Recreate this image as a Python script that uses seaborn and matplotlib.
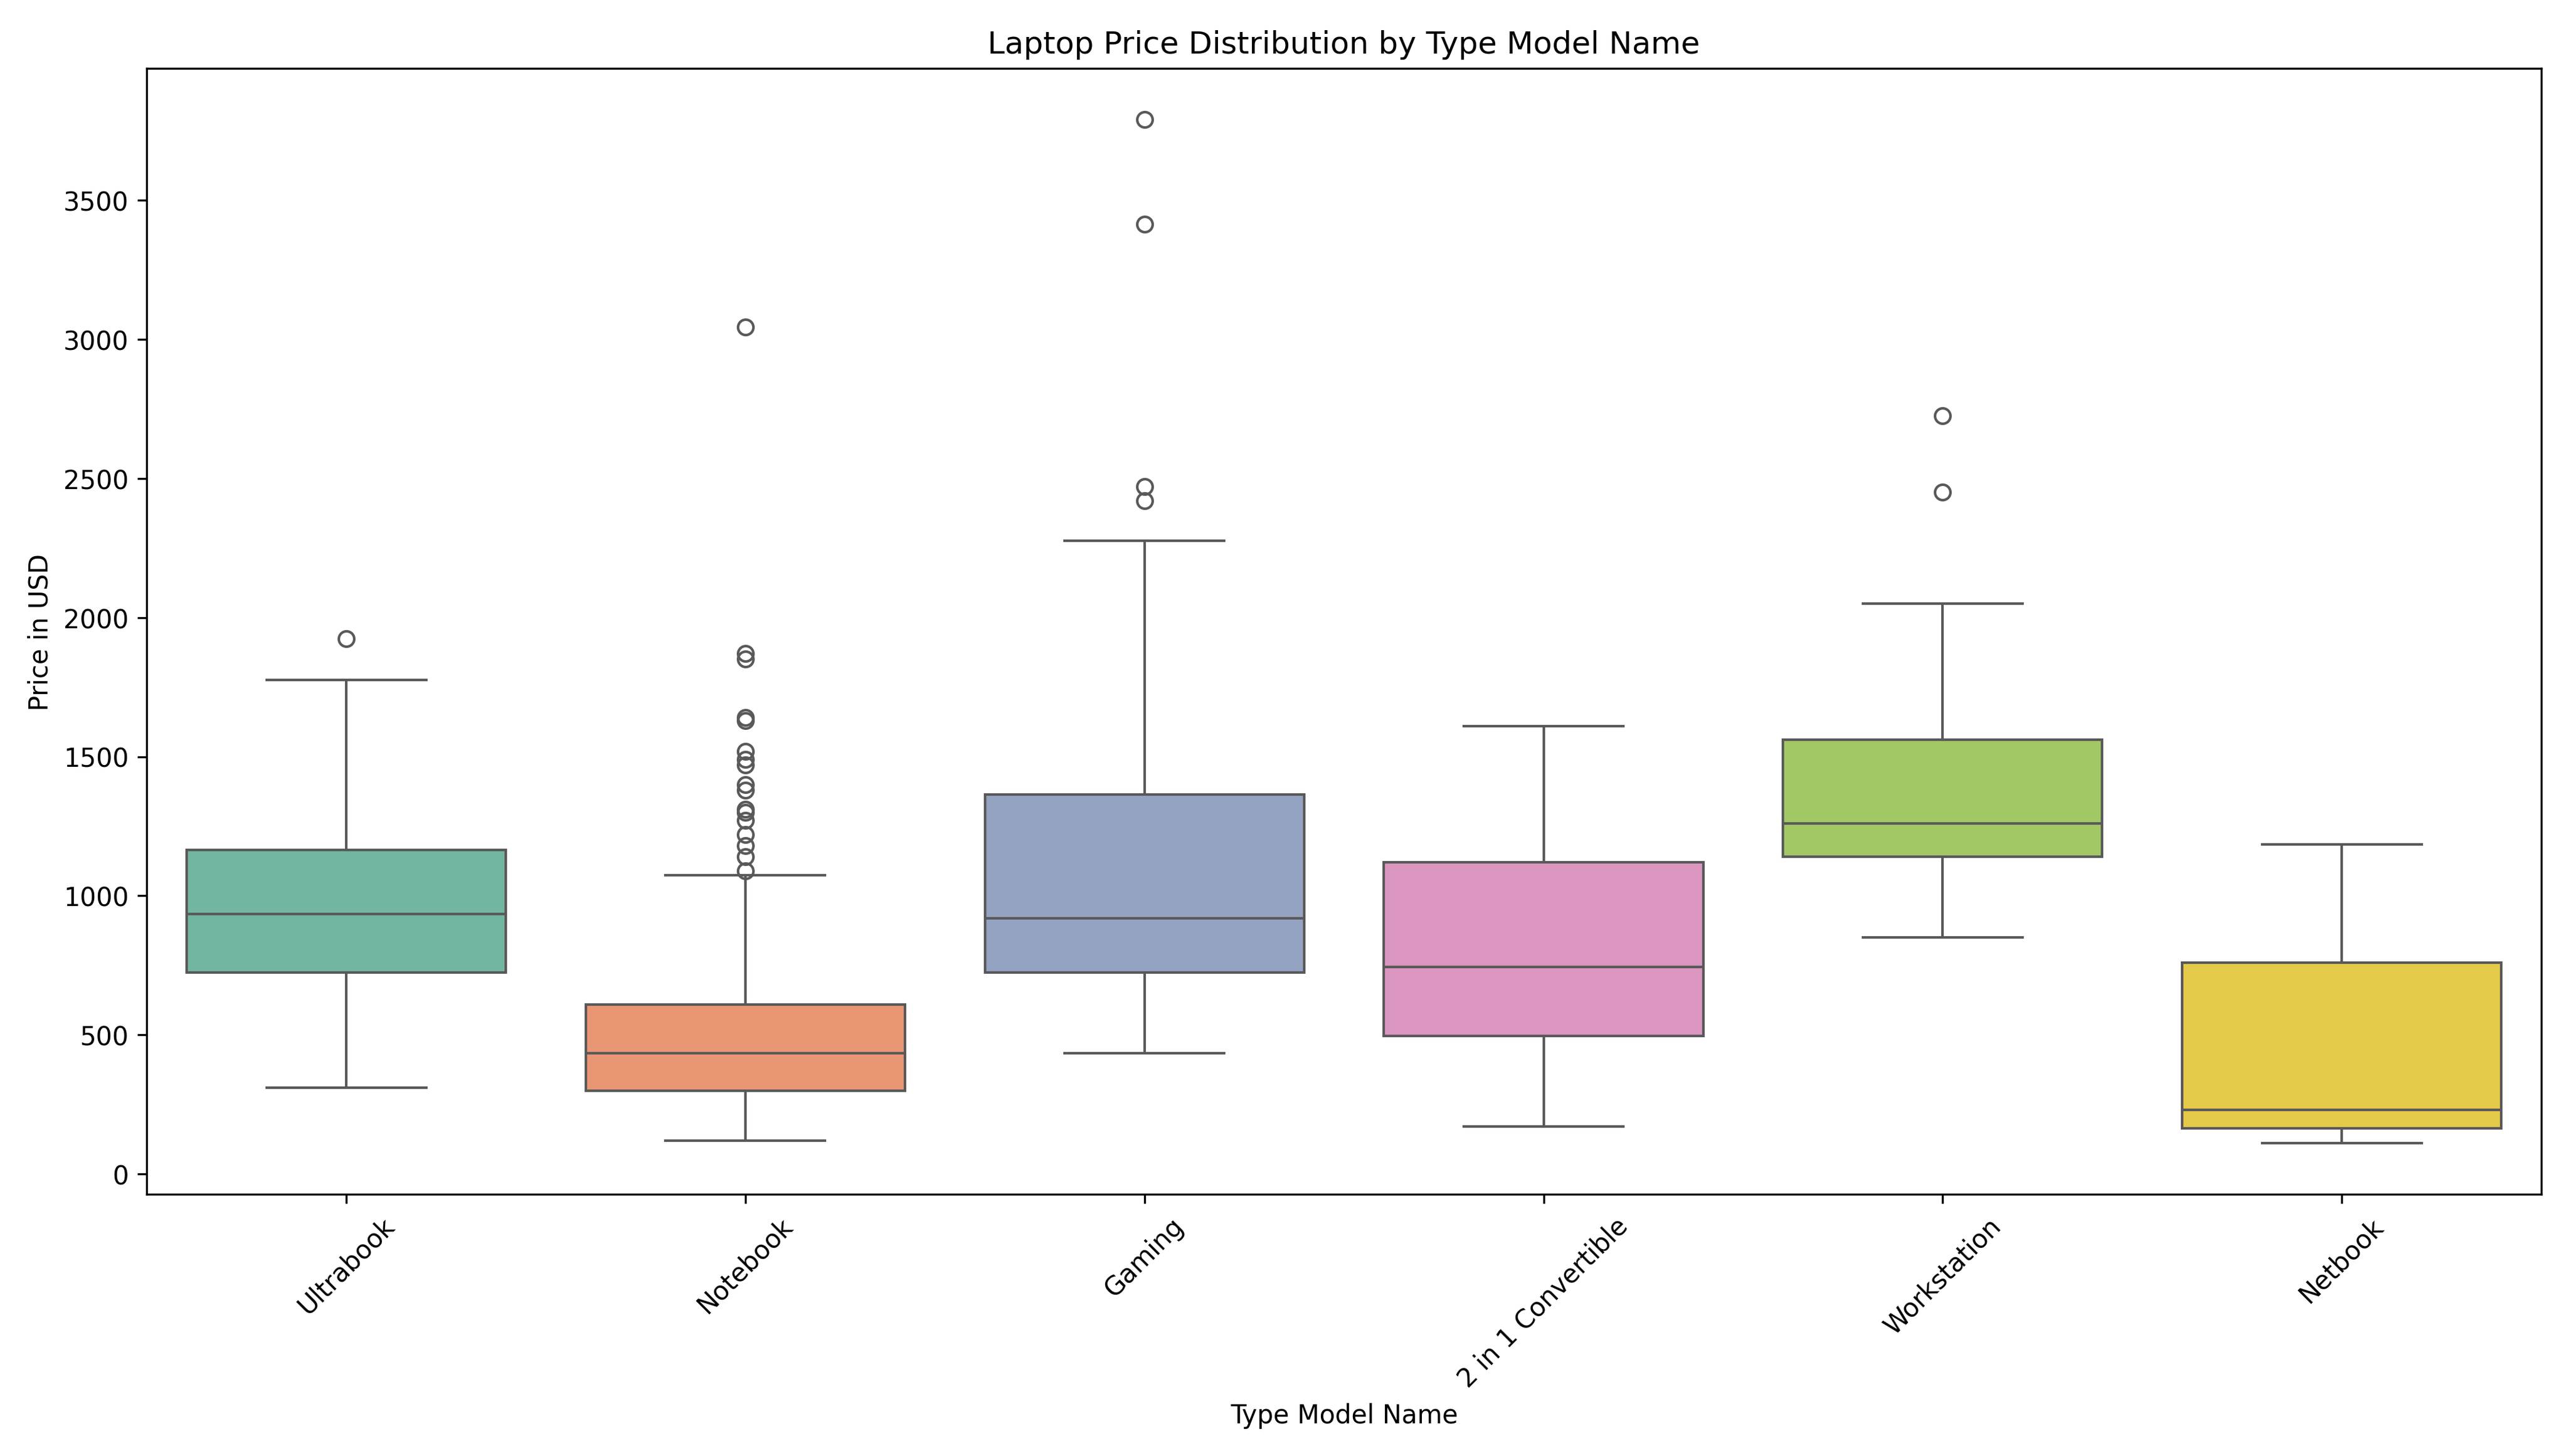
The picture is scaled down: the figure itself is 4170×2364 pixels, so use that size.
import numpy as np
import pandas as pd
import matplotlib
matplotlib.use("Agg")
import matplotlib.pyplot as plt
import seaborn as sns

categories = ["Ultrabook", "Notebook", "Gaming", "2 in 1 Convertible", "Workstation", "Netbook"]
# five-number summaries: low whisker, q1, median, q3, high whisker
whis_low = [310, 120, 435, 170, 850, 110]
q1 = [725, 300, 725, 495, 1140, 165]
median = [935, 435, 920, 745, 1260, 230]
q3 = [1165, 610, 1365, 1120, 1560, 760]
whis_high = [1775, 1075, 2275, 1610, 2050, 1185]
outliers = [
    [1925],
    [1090, 1140, 1180, 1220, 1270, 1300, 1310, 1380, 1400, 1470, 1490,
     1520, 1630, 1640, 1850, 1870, 3045],
    [2420, 2470, 3415, 3790],
    [],
    [2450, 2725],
    [],
]

# build a sample per type that reproduces these summaries
rows = []
reps = 30
for i, cat in enumerate(categories):
    vals = [whis_low[i]] + [q1[i]] * reps + [median[i]] * reps + [q3[i]] * reps + [whis_high[i]] + outliers[i]
    rows += [(cat, v) for v in vals]
df = pd.DataFrame(rows, columns=["TypeName", "Price"])

fig, ax = plt.subplots(figsize=(13.9, 7.883))
sns.boxplot(data=df, x="TypeName", y="Price", hue="TypeName", palette="Set2",
            order=categories, legend=False, ax=ax)
ax.set_title("Laptop Price Distribution by Type Model Name")
ax.set_xlabel("Type Model Name")
ax.set_ylabel("Price in USD")
ax.tick_params(axis="x", rotation=45)
plt.tight_layout()
plt.savefig("out.png", dpi=300)
